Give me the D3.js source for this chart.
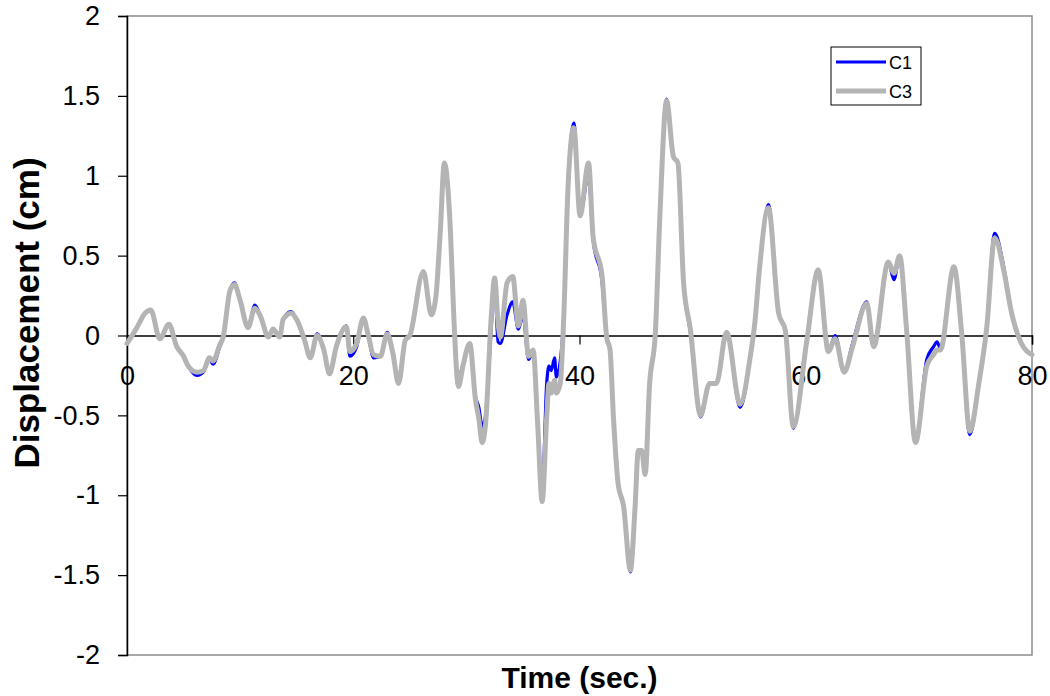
<!DOCTYPE html>
<html>
<head>
<meta charset="utf-8">
<script src="https://cdn.jsdelivr.net/npm/d3@7"></script>
<style>
  html, body { margin: 0; padding: 0; background: #fff; }
  svg { display: block; font-family: "Liberation Sans", Arial, sans-serif; }
</style>
</head>
<body>
<svg id="chart" width="1050" height="696"></svg>
<script>
// Time stamps (sec.)
const time = [
  0.0, 0.8, 1.6, 2.1, 2.9, 3.7, 4.4, 5.0, 5.4, 6.2, 6.75, 7.3, 7.6, 8.2, 8.5, 9.1, 9.5, 10.0,
  10.7, 11.3, 11.8, 12.5, 12.9, 13.5, 13.8, 14.5, 15.0, 15.7, 16.2, 16.8, 17.4, 17.9, 18.5,
  19.4, 19.7, 20.3, 20.9, 21.3, 21.8, 22.4, 23.0, 23.5, 24.0, 24.6, 25.0, 26.2, 26.9, 27.3,
  27.7, 28.05, 28.6, 28.9, 29.3, 29.7, 30.3, 30.8, 31.1, 31.4, 31.7, 32.2, 32.5, 32.8, 33.0,
  33.6, 34.1, 34.6, 35.0, 35.5, 35.9, 36.3, 36.7, 37.1, 37.3, 37.5, 37.8, 37.95, 38.3, 38.6,
  39.0, 39.5, 40.05, 40.8, 41.2, 42.0, 42.4, 42.7, 43.0, 43.4, 43.9, 44.5, 44.9, 45.2, 45.5,
  45.8, 46.2, 46.7, 47.1, 47.7, 48.3, 48.7, 49.2, 49.8, 50.7, 51.5, 52.1, 53.0, 54.2, 55.1,
  55.5, 55.9, 56.7, 57.6, 58.2, 58.9, 60.1, 61.1, 62.0, 62.6, 63.4, 64.1, 65.4, 66.0, 67.3,
  67.8, 68.3, 68.9, 69.7, 70.7, 71.3, 71.6, 71.9, 73.1, 73.8, 74.5, 75.3, 76.0, 76.7, 77.5,
  78.2, 79.0, 80.0
];

// Displacement (cm), column C1
const c1 = [
  -0.05, 0.04, 0.14, 0.16, -0.02, 0.07, -0.07, -0.13, -0.19, -0.25, -0.23, -0.15, -0.18, -0.07, -0.01, 0.28, 0.33, 0.22,
  0.05, 0.19, 0.12, -0.01, 0.04, -0.01, 0.10, 0.15, 0.10, -0.03, -0.14, 0.01, -0.09, -0.24, -0.07,
  0.06, -0.13, -0.07, 0.11, 0.01, -0.14, -0.13, 0.02, -0.11, -0.30, -0.03, 0.0, 0.40, 0.13, 0.24,
  0.66, 1.08, 0.64, 0.10, -0.27, -0.18, -0.05, -0.38, -0.45, -0.57, -0.50, 0.05, 0.34, -0.04, -0.05,
  0.13, 0.21, 0.04, 0.13, -0.15, -0.10, -0.55, -1.00, -0.30, -0.19, -0.22, -0.14, -0.26, -0.16, 0.10,
  0.95, 1.33, 0.76, 1.00, 0.60, 0.33, -0.01, -0.09, -0.51, -0.92, -1.07, -1.48, -1.09, -0.72, -0.72,
  -0.87, -0.30, 0.01, 0.74, 1.48, 1.12, 1.08, 0.33, 0.02, -0.51, -0.30, -0.30, 0.02, -0.45, -0.13,
  0.09, 0.41, 0.82, 0.14, 0.03, -0.58, -0.02, 0.41, -0.10, 0.0, -0.23, -0.06, 0.21, -0.07, 0.46,
  0.35, 0.50, 0.05, -0.66, -0.15, -0.07, -0.04, -0.08, 0.43, 0.0, -0.62, -0.30, 0.05, 0.64, 0.43,
  0.14, -0.04, -0.12
];

// Displacement (cm), column C3
const c3 = [
  -0.05, 0.04, 0.14, 0.16, -0.02, 0.07, -0.07, -0.13, -0.19, -0.23, -0.22, -0.14, -0.16, -0.06, -0.01, 0.28, 0.32, 0.22,
  0.05, 0.17, 0.12, -0.01, 0.04, -0.01, 0.10, 0.14, 0.10, -0.03, -0.14, 0.0, -0.09, -0.24, -0.07,
  0.055, -0.10, -0.05, 0.11, 0.01, -0.12, -0.13, 0.01, -0.11, -0.30, -0.03, 0.0, 0.40, 0.13, 0.24,
  0.66, 1.08, 0.64, 0.10, -0.32, -0.19, -0.05, -0.40, -0.52, -0.67, -0.55, 0.12, 0.36, 0.08, -0.01,
  0.33, 0.37, 0.06, 0.22, -0.13, -0.09, -0.55, -1.04, -0.51, -0.30, -0.36, -0.28, -0.36, -0.30, 0.10,
  0.95, 1.30, 0.75, 1.08, 0.62, 0.37, -0.01, -0.09, -0.51, -0.92, -1.07, -1.47, -1.09, -0.72, -0.72,
  -0.87, -0.30, 0.01, 0.74, 1.47, 1.12, 1.08, 0.33, 0.04, -0.50, -0.30, -0.30, 0.02, -0.43, -0.13,
  0.08, 0.41, 0.80, 0.14, 0.03, -0.57, -0.03, 0.41, -0.10, -0.02, -0.23, -0.08, 0.20, -0.07, 0.46,
  0.39, 0.50, 0.05, -0.67, -0.19, -0.12, -0.09, -0.09, 0.43, 0.0, -0.60, -0.30, 0.05, 0.61, 0.41,
  0.14, -0.04, -0.12
];

const xTicks = [0, 20, 40, 60, 80];
const yTicks = [-2, -1.5, -1, -0.5, 0, 0.5, 1, 1.5, 2];
const seriesNames = ["C1", "C3"];
const seriesColors = ["#0000ff", "#b4b4b4"];

const svg = d3.select("#chart");
const plot = { left: 127, right: 1032, top: 16, bottom: 655 };

const x = d3.scaleLinear().domain([0, 80]).range([plot.left, plot.right]);
const y = d3.scaleLinear().domain([-2, 2]).range([plot.bottom, plot.top]);

// plain hyphen-minus labels, e.g. "-0.5"
const plainNum = d => String(d);

// plot-area frame (grey)
svg.append("rect")
  .attr("x", plot.left).attr("y", plot.top)
  .attr("width", plot.right - plot.left).attr("height", plot.bottom - plot.top)
  .attr("fill", "none").attr("stroke", "#8c8c8c").attr("stroke-width", 1.5);

// y axis on the left edge
const yAxis = svg.append("g")
  .attr("transform", `translate(${plot.left},0)`)
  .call(d3.axisLeft(y).tickValues(yTicks).tickSize(9).tickPadding(18)
    .tickFormat(plainNum));
yAxis.select(".domain").attr("stroke", "#000").attr("stroke-width", 1.5);
yAxis.selectAll(".tick line").attr("stroke", "#000").attr("stroke-width", 1.2);
yAxis.selectAll(".tick text")
  .attr("font-size", 27).attr("fill", "#000")
  .attr("font-family", "'Liberation Sans', Arial, sans-serif");

// x axis through zero
const xAxis = svg.append("g")
  .attr("transform", `translate(0,${y(0)})`)
  .call(d3.axisBottom(x).tickValues(xTicks).tickSize(9).tickPadding(21)
    .tickFormat(plainNum));
xAxis.select(".domain").attr("stroke", "#000").attr("stroke-width", 1.5);
xAxis.selectAll(".tick line").attr("stroke", "#000").attr("stroke-width", 1.2);
xAxis.selectAll(".tick text")
  .attr("font-size", 27).attr("fill", "#000")
  .attr("font-family", "'Liberation Sans', Arial, sans-serif");

// series lines
const line = d3.line()
  .x(d => x(d[0]))
  .y(d => y(d[1]))
  .curve(d3.curveMonotoneX);

const seriesData = [c1, c3].map(vals => time.map((t, i) => [t, vals[i]]));
const widths = [3.2, 5];

svg.append("g").selectAll("path")
  .data(seriesData)
  .join("path")
  .attr("d", line)
  .attr("fill", "none")
  .attr("stroke", (d, i) => seriesColors[i])
  .attr("stroke-width", (d, i) => widths[i])
  .attr("stroke-linejoin", "round")
  .attr("stroke-linecap", "round");

// axis titles
svg.append("text")
  .attr("x", (plot.left + plot.right) / 2).attr("y", 688)
  .attr("text-anchor", "middle")
  .attr("font-size", 30).attr("font-weight", "bold")
  .text("Time (sec.)");

svg.append("text")
  .attr("transform", "translate(39,313) rotate(-90)")
  .attr("text-anchor", "middle")
  .attr("font-size", 35).attr("font-weight", "bold")
  .text("Displacement (cm)");

// legend
const legend = svg.append("g").attr("transform", "translate(831,47)");
legend.append("rect")
  .attr("width", 90).attr("height", 58)
  .attr("fill", "#fff").attr("stroke", "#000").attr("stroke-width", 1);
const items = legend.selectAll("g.item")
  .data(seriesNames)
  .join("g")
  .attr("class", "item")
  .attr("transform", (d, i) => `translate(0,${15 + i * 29})`);
items.append("line")
  .attr("x1", 5).attr("x2", 55)
  .attr("stroke", (d, i) => seriesColors[i])
  .attr("stroke-width", (d, i) => (i === 0 ? 3 : 5));
items.append("text")
  .attr("x", 58).attr("y", 6.5)
  .attr("font-size", 18)
  .text(d => d);
</script>
</body>
</html>
